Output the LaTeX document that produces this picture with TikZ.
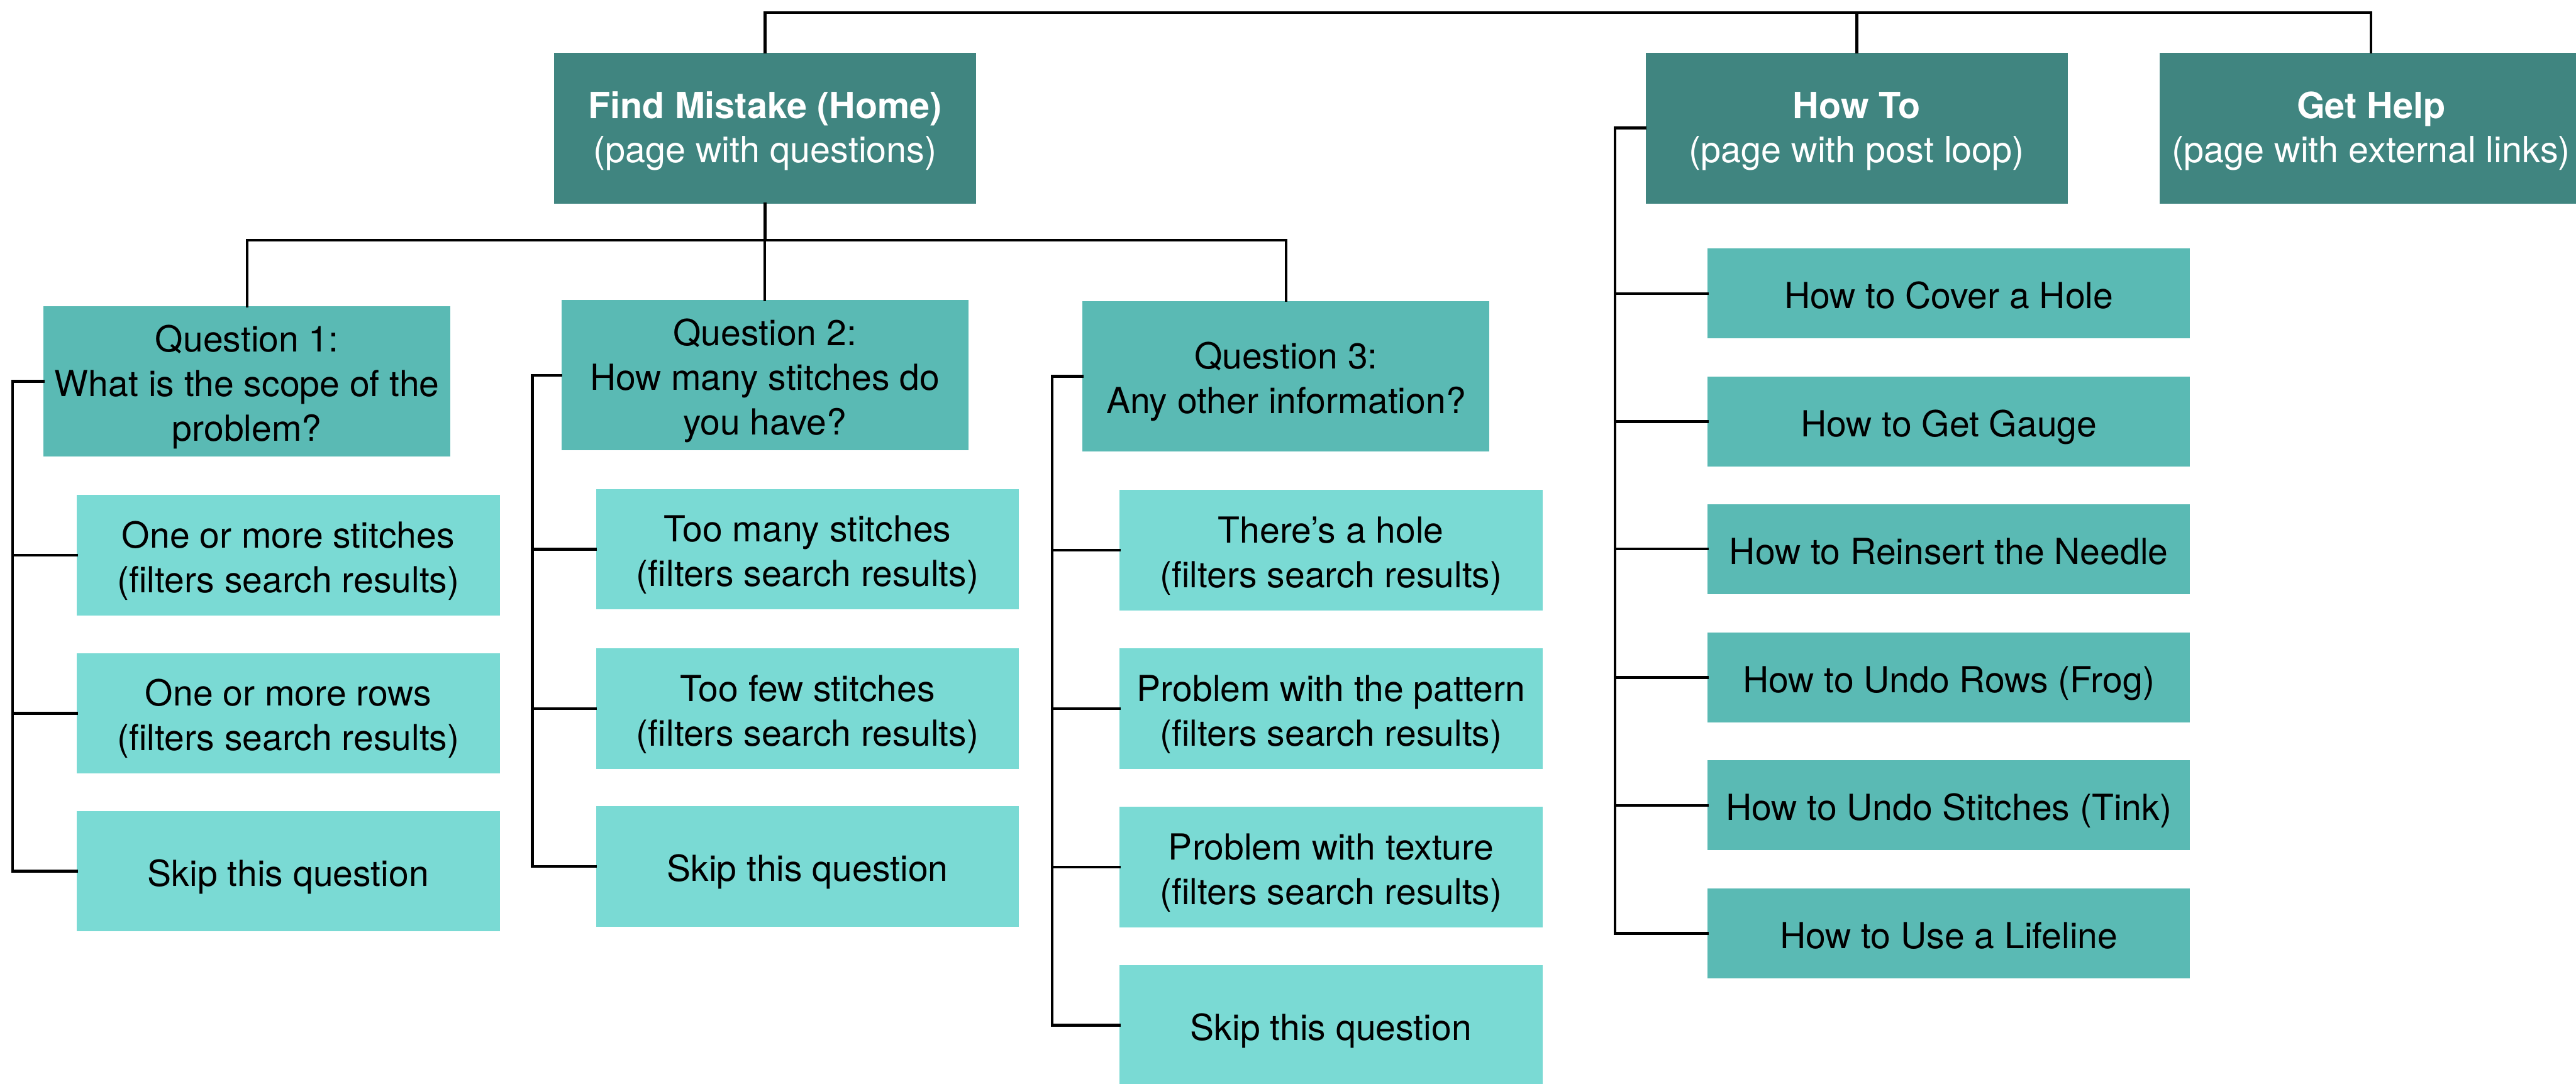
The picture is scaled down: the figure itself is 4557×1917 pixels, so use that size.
\documentclass[tikz,border=0pt]{standalone}
\usepackage{fontspec}
\setmainfont{TeX Gyre Heros}
\definecolor{cdark}{RGB}{64,133,128}
\definecolor{cmid}{RGB}{90,186,180}
\definecolor{clight}{RGB}{122,218,212}
\newcommand{\ts}{\rule{0pt}{14.1pt}}
\newcommand{\hs}{\rule{0pt}{12.4pt}}
\newcommand{\bs}{\rule[-3.5pt]{0pt}{0pt}}
\tikzset{
  boxbase/.style={rectangle, inner sep=0pt, align=center,
    font=\fontsize{12.7}{15.8}\selectfont},
  darkbox/.style={boxbase, fill=cdark, text=white, minimum width=149.4pt, minimum height=53.4pt,
    font=\fontsize{12.8}{15.4}\selectfont},
  qbox/.style={boxbase, fill=cmid, text=black, minimum width=144pt, minimum height=53.2pt},
  ansbox/.style={boxbase, fill=clight, text=black, minimum width=149.6pt, minimum height=42.6pt},
  howbox/.style={boxbase, fill=cmid, text=black, minimum width=170.6pt, minimum height=31.8pt},
  link/.style={line width=1pt, line cap=rect}
}
\begin{document}
\begin{tikzpicture}[x=0.2pt,y=-0.2pt]
\useasboundingbox (0,0) rectangle (4557,1917);
% top level
\node[darkbox] (fm) at (1353.5,226.5) {\hs\textbf{Find Mistake (Home)}\\(page with questions)\bs};
\node[darkbox] (ht) at (3284.5,226.5) {\hs\textbf{How To}\\(page with post loop)\bs};
\node[darkbox] (gh) at (4194.5,226.5) {\hs\textbf{Get Help}\\(page with external links)\bs};
% questions
\node[qbox] (q1) at (437,675) {\ts Question 1:\\What is the scope of the\\problem?\bs};
\node[qbox] (q2) at (1353,664) {\ts Question 2:\\How many stitches do\\you have?\bs};
\node[qbox] (q3) at (2275,666) {\ts Question 3:\\Any other information?\bs};
% answers Q1
\node[ansbox] (a11) at (510,982.5) {\ts One or more stitches\\(filters search results)\bs};
\node[ansbox] (a12) at (510,1262) {\ts One or more rows\\(filters search results)\bs};
\node[ansbox] (a13) at (510,1541.5) {\ts Skip this question\bs};
% answers Q2
\node[ansbox] (a21) at (1428.5,972) {\ts Too many stitches\\(filters search results)\bs};
\node[ansbox] (a22) at (1428.5,1254) {\ts Too few stitches\\(filters search results)\bs};
\node[ansbox] (a23) at (1428.5,1533) {\ts Skip this question\bs};
% answers Q3
\node[ansbox] (a31) at (2354.5,973.5) {\ts There’s a hole\\(filters search results)\bs};
\node[ansbox] (a32) at (2354.5,1254) {\ts Problem with the pattern\\(filters search results)\bs};
\node[ansbox] (a33) at (2354.5,1534) {\ts Problem with texture\\(filters search results)\bs};
\node[ansbox] (a34) at (2354.5,1814) {\ts Skip this question\bs};
% how to children
\node[howbox] (h1) at (3447.5,519.5) {\ts How to Cover a Hole\bs};
\node[howbox] (h2) at (3447.5,746) {\ts How to Get Gauge\bs};
\node[howbox] (h3) at (3447.5,971.5) {\ts How to Reinsert the Needle\bs};
\node[howbox] (h4) at (3447.5,1198.5) {\ts How to Undo Rows (Frog)\bs};
\node[howbox] (h5) at (3447.5,1425) {\ts How to Undo Stitches (Tink)\bs};
\node[howbox] (h6) at (3447.5,1651.5) {\ts How to Use a Lifeline\bs};
% helper coordinates
\coordinate (topy) at (0,22);
\coordinate (qbar) at (0,425);
\coordinate (t1) at (22,0);
\coordinate (t2) at (942,0);
\coordinate (t3) at (1861,0);
\coordinate (th) at (2857,0);
% connectors top
\draw[link] (fm.north) -- (fm.north |- topy) -- (gh.north |- topy) -- (gh.north);
\draw[link] (ht.north) -- (ht.north |- topy);
% FM to questions
\draw[link] (fm.south) -- (fm.south |- qbar);
\draw[link] (q1.north) -- (q1.north |- qbar) -- (q3.north |- qbar) -- (q3.north);
\draw[link] (q2.north) -- (q2.north |- qbar);
% Q1 trunk
\draw[link] (q1.west) -- (q1.west -| t1) |- (a13.west);
\draw[link] (a11.west) -- (a11.west -| t1);
\draw[link] (a12.west) -- (a12.west -| t1);
% Q2 trunk
\draw[link] (q2.west) -- (q2.west -| t2) |- (a23.west);
\draw[link] (a21.west) -- (a21.west -| t2);
\draw[link] (a22.west) -- (a22.west -| t2);
% Q3 trunk
\draw[link] (q3.west) -- (q3.west -| t3) |- (a34.west);
\draw[link] (a31.west) -- (a31.west -| t3);
\draw[link] (a32.west) -- (a32.west -| t3);
\draw[link] (a33.west) -- (a33.west -| t3);
% How To trunk
\draw[link] (ht.west) -- (ht.west -| th) |- (h6.west);
\draw[link] (h1.west) -- (h1.west -| th);
\draw[link] (h2.west) -- (h2.west -| th);
\draw[link] (h3.west) -- (h3.west -| th);
\draw[link] (h4.west) -- (h4.west -| th);
\draw[link] (h5.west) -- (h5.west -| th);
\end{tikzpicture}
\end{document}
